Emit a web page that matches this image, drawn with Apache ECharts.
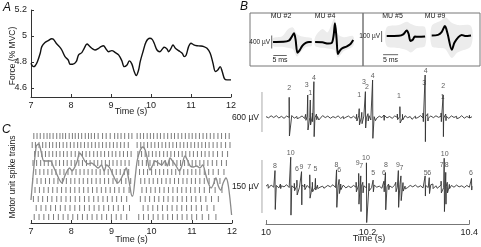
<!DOCTYPE html>
<html><head><meta charset="utf-8">
<script src="https://cdn.jsdelivr.net/npm/echarts@6/dist/echarts.min.js"></script>
<style>html,body{margin:0;padding:0;background:#fff}#c{width:481px;height:247px}</style>
</head><body><div id="c"></div>
<script>
// ---------- DATA ----------
// Panel A: force (% MVC)
const forceT = [7.00,7.06,7.10,7.16,7.23,7.27,7.35,7.43,7.52,7.56,7.63,7.71,7.77,7.85,7.93,7.98,8.04,8.13,8.19,8.27,8.33,8.40,8.46,8.52,8.60,8.69,8.75,8.81,8.88,8.94,9.02,9.11,9.19,9.27,9.33,9.40,9.46,9.52,9.58,9.63,9.69,9.73,9.80,9.88,9.97,10.03,10.08,10.15,10.22,10.28,10.33,10.40,10.44,10.50,10.55,10.61,10.69,10.78,10.83,10.88,10.94,11.00,11.07,11.15,11.23,11.32,11.40,11.48,11.55,11.61,11.67,11.73,11.78,11.84,11.90,12.00];
const forceV = [4.790,4.764,4.769,4.802,4.867,4.918,4.949,4.964,4.979,4.974,4.944,4.918,4.892,4.841,4.815,4.782,4.782,4.802,4.854,4.872,4.905,4.938,4.923,4.905,4.892,4.905,4.918,4.925,4.898,4.879,4.887,4.872,4.854,4.810,4.764,4.777,4.808,4.785,4.726,4.695,4.738,4.802,4.879,4.956,4.982,4.974,4.944,4.892,4.879,4.898,4.913,4.900,4.879,4.905,4.931,4.905,4.887,4.867,4.841,4.854,4.918,4.944,4.931,4.925,4.923,4.918,4.905,4.867,4.790,4.726,4.738,4.764,4.726,4.669,4.662,4.662];
const forceTicks = [4.6,4.8,5,5.2];

// Panel C: overlaid smoothed trace (arbitrary units) and spike trains (centiseconds after 7 s)
const rateT = [7.00,7.13,7.19,7.26,7.32,7.41,7.49,7.55,7.63,7.71,7.77,7.84,7.90,7.96,8.02,8.09,8.15,8.21,8.27,8.34,8.42,8.50,8.58,8.67,8.75,8.82,8.88,8.96,9.04,9.10,9.16,9.25,9.31,9.37,9.41,9.46,9.51,9.53,9.59,9.64,9.71,9.78,9.84,9.89,9.96,10.03,10.08,10.17,10.25,10.33,10.39,10.46,10.52,10.61,10.69,10.75,10.83,10.89,10.96,11.04,11.12,11.20,11.27,11.35,11.41,11.48,11.53,11.60,11.66,11.72,11.78,11.85,11.91,11.99];
const rateV = [23,77,79,70,62,62,62,57,50,43,40,47,52,55,52,56,62,70,67,62,59,60,58,55,58,52,58,55,48,43,40,45,50,55,48,37,27,27,45,62,72,76,73,65,53,58,62,60,58,62,57,65,62,57,52,57,67,63,57,56,57,55,58,48,40,35,38,45,37,33,40,45,37,8];
const spikeRows = [
 [7,15,23,32,40,47,55,64,72,79,86,95,103,110,118,126,135,143,150,158,167,178,187,197,208,216,224,233,243,251,264,272,280,289,297,305,314,322,331,340,349,357,366,375,384,393,401,410,419,428,437,446,455,465,474,484,493],
 [3,11,20,29,37,46,54,63,71,80,89,98,107,116,124,133,142,151,160,169,178,187,196,205,214,223,232,242,264,273,281,290,299,308,317,326,335,344,353,362,371,380,389,398,407,416,425,434,443,453,463,473,484,495],
 [9,18,27,36,45,54,63,72,81,90,100,110,119,128,137,146,156,165,174,183,193,202,211,221,230,240,249,266,275,284,293,302,311,320,330,339,348,357,367,376,385,395,404,414,424,433,443,453,464,476,489],
 [5,14,24,33,43,52,62,71,81,90,100,109,119,128,138,147,157,166,176,185,195,204,214,224,234,244,268,277,287,296,306,315,325,334,344,353,363,372,382,391,401,410,420,430,440,451,462,474,486],
 [12,22,32,42,52,62,72,82,92,102,112,122,132,142,152,162,172,182,192,202,212,222,232,243,270,280,290,300,310,320,330,340,350,360,370,380,390,400,410,420,431,442,453,466,480],
 [4,15,25,36,46,57,67,78,88,99,109,120,130,141,151,162,172,183,193,204,214,225,236,248,273,283,294,304,315,325,336,346,357,367,378,388,399,409,420,431,443,456,470],
 [10,21,32,43,54,65,76,87,98,109,120,131,142,153,164,175,186,197,208,219,231,244,276,287,298,309,320,331,342,353,364,375,386,397,408,419,431,444,458,475],
 [6,18,29,41,52,64,75,87,98,110,121,133,144,156,167,179,190,202,213,225,238,272,284,295,307,318,330,341,353,364,376,387,399,410,422,435,449,466],
 [13,25,37,49,61,73,85,97,109,121,133,145,157,169,181,193,205,217,230,245,279,291,303,315,327,339,351,363,375,387,399,411,424,438,455],
 [8,20,32,44,56,68,80,92,104,116,128,140,152,164,176,188,200,212,224,238,268,280,292,304,316,328,340,352,364,376,388,400,412,426,442,460]
];

// Panel B templates: [ms, µV]
const mu2 = [[8.6,0],[12.5,5],[14.5,40],[15.5,150],[16.4,270],[17.0,80],[17.7,-330],[18.5,-260],[19.5,-120],[20.8,-30],[22,0],[23,0]];
const mu4 = [[24.3,0],[27,-10],[29.2,-50],[30.5,-30],[31.2,200],[31.7,580],[32.3,100],[32.8,-370],[33.6,-260],[34.5,-190],[36,-140],[37.5,-60],[38.5,60]];
const mu5 = [[7.9,0],[12,2],[13.4,15],[14.6,50],[15.2,20],[15.8,-45],[16.6,-35],[17.3,-5],[18.5,-8],[20.7,-5]];
const mu9 = [[22.9,5],[25,10],[26.2,35],[27.3,90],[28.2,20],[29.6,-125],[30.5,-60],[31.8,-10],[32.9,10],[34,0],[36,5]];
// spread of individual discharges: [ms, low µV, high µV]
const mu2Band = [[8.6,-120,120],[12,-150,180],[14,-180,380],[16,-220,450],[17.5,-450,250],[19,-300,180],[21,-150,150],[23,-120,120]];
const mu4Band = [[24.3,-120,150],[27,-180,400],[29,-200,300],[31.5,-250,720],[32.8,-480,250],[35,-280,150],[38.5,-120,180]];
const mu5Band = [[7.9,-90,80],[12,-110,100],[14.6,-130,130],[16,-150,110],[18,-110,90],[20.7,-90,80]];
const mu9Band = [[22.9,-90,90],[26,-110,140],[27.5,-120,170],[29.6,-200,120],[31.5,-150,100],[36,-90,90]];

// Panel B raw EMG: baseline noise samples (µV) over 10.0–10.4 s, and discharges [t, peak µV, trough µV]
const topNoise = [5,-12,18,-8,20,-15,10,-20,14,-6,22,-18,8,-10,16,-22,12,-5,19,-14,7,-17,21,-9,13,-19,6,-11,17,-21,9,-4,15,-16,11,-23,18,-7,14,-12,20,-15,5,-18,12,-9,23,-13,8,-20,16,-6,10,-17,19,-11,7,-22,13,-8,21,-14,6,-19,15,-10,18,-5,12,-16,9,-21,17,-7,11,-13,20,-18,8,-12,4];
const botNoise = [1,-3,4,-2,3,-4,2,-1,5,-3,2,-4,3,-2,4,-1,3,-5,2,-3,4,-2,1,-4,3,-1,5,-3,2,-2,4,-4,1,-3,3,-2,5,-1,2,-4,3,-3,4,-2,1,-5,3,-1,2,-3,4,-2,5,-4,1,-3,3,-1,4,-2,2,-4,3,-3,5,-1,2,-2,4,-3,1,-4,3,-2,4,-1,2,-3,3,-2,1];
const topSpikes = [[10.045,295,-285],[10.060,20,-25],[10.077,40,-50],[10.081,330,-195],[10.086,255,-120],[10.090,60,-70],[10.093,530,-295],[10.098,45,-40],[10.102,30,-45],[10.130,20,-20],[10.150,20,-25],[10.176,40,-60],[10.181,125,-120],[10.186,70,-100],[10.193,380,-165],[10.198,50,-60],[10.203,40,-45],[10.207,555,-320],[10.212,35,-55],[10.229,30,-50],[10.255,45,-40],[10.260,155,-90],[10.265,40,-45],[10.283,25,-35],[10.290,20,-20],[10.305,60,-70],[10.309,630,-370],[10.314,50,-60],[10.340,60,-70],[10.344,330,-295],[10.349,45,-55],[10.370,20,-25],[10.395,25,-15]];
const botSpikes = [[10.004,6,-5],[10.0175,45,-65],[10.028,7,-6],[10.048,83,-81],[10.055,9,-12],[10.060,18,-24],[10.069,42,-52],[10.075,7,-9],[10.085,33,-33],[10.090,12,-15],[10.096,23,-10],[10.100,6,-6],[10.112,5,-5],[10.137,47,-59],[10.142,20,-20],[10.145,7,-9],[10.175,12,-15],[10.180,37,-50],[10.184,30,-71],[10.188,12,-18],[10.195,67,-102],[10.200,9,-12],[10.208,18,-15],[10.229,15,-15],[10.232,39,-66],[10.238,7,-9],[10.252,12,-15],[10.257,45,-59],[10.262,30,-40],[10.266,11,-13],[10.270,6,-7],[10.309,30,-27],[10.317,25,-20],[10.324,7,-6],[10.332,6,-5],[10.340,15,-18],[10.346,80,-71],[10.349,40,-50],[10.352,12,-18],[10.356,6,-6],[10.399,23,-10]];
const topLabels = [[10.045,430,'2'],[10.079,480,'3'],[10.086,355,'1'],[10.093,590,'4'],[10.181,325,'1'],[10.190,530,'3'],[10.196,455,'2'],[10.207,610,'4'],[10.258,315,'1'],[10.307,515,'3'],[10.310,690,'4'],[10.344,465,'2'],[10.343,295,'1']];
const botLabels = [[10.0175,58,'8'],[10.048,94,'10'],[10.060,49,'6'],[10.069,56,'9'],[10.084,56,'7'],[10.096,49,'5'],[10.137,61,'8'],[10.142,47,'6'],[10.178,67,'9'],[10.185,58,'7'],[10.194,80,'10'],[10.208,39,'5'],[10.229,39,'6'],[10.233,61,'8'],[10.256,61,'9'],[10.263,52,'7'],[10.310,39,'5'],[10.317,39,'6'],[10.341,61,'7'],[10.347,92,'10'],[10.351,61,'8'],[10.398,39,'6']];
const emgTicks = [10,10.2,10.4];
const scaleTopUV = 600, scaleBotUV = 150, scaleTplA = 400, scaleTplB = 100, scaleMs = 5;

// ---------- BUILD ----------
const FONT = 'Liberation Sans';
const INK = '#222';
function pairs(a,b){return a.map((x,i)=>[x,b[i]]);}
function trace(noise, spikes){
  const pts=[]; const n=noise.length;
  for(let i=0;i<n;i++) pts.push([10+0.4*i/(n-1), noise[i]]);
  spikes.forEach(s=>{pts.push([s[0],s[1]]);pts.push([s[0]+0.0005,s[2]]);});
  pts.sort((a,b)=>a[0]-b[0]); return pts;
}
const raster=[]; spikeRows.forEach((r,i)=>r.forEach(cs=>raster.push([7+cs/100,i+1])));

function band(arr, xi, yi){
  return {type:'custom', xAxisIndex:xi, yAxisIndex:yi, data:[[0,0]], silent:true, z:1,
    renderItem:(p,api)=>{
      const up=arr.map(d=>api.coord([d[0],d[2]]));
      const lo=arr.slice().reverse().map(d=>api.coord([d[0],d[1]]));
      return {type:'polygon', shape:{points:up.concat(lo), smooth:0.3}, style:{fill:'#ececec'}};
    }};
}
function wave(arr, xi, yi){
  return {type:'line', xAxisIndex:xi, yAxisIndex:yi, data:arr, showSymbol:false, smooth:0.3,
    lineStyle:{color:'#000', width:2}, z:3};
}
function seg(pts, xi, yi, color, w){
  return {type:'line', xAxisIndex:xi, yAxisIndex:yi, data:pts, showSymbol:false,
    lineStyle:{color:color||'#333', width:w||1}, z:4};
}
function labels(arr, xi, yi){
  return {type:'scatter', xAxisIndex:xi, yAxisIndex:yi, symbolSize:1, itemStyle:{color:'rgba(0,0,0,0)'},
    data:arr.map(d=>({value:[d[0],d[1]], name:d[2]})), z:5,
    label:{show:true, position:'inside', formatter:p=>p.name, fontSize:7, color:'#333', fontFamily:FONT}};
}
const axLine = {lineStyle:{color:'#333', width:1}};
const hidden = (min,max,extra)=>Object.assign({type:'value', show:false, min, max, splitLine:{show:false}}, extra||{});
const txt = (x,y,text,size,align,extra)=>Object.assign({type:'text', x, y, z:100,
  style:{text, font:size+'px '+FONT, fill:INK, align:align||'center', verticalAlign:'middle'}}, extra||{});

const option = {
  animation:false,
  grid:[
    {left:31, top:10, width:200, height:87},          // A
    {left:31, top:131, width:201, height:92},         // C
    {left:250, top:13, width:113, height:53, show:true, borderColor:'#777', borderWidth:1}, // B box 1
    {left:363, top:13, width:117, height:53, show:true, borderColor:'#777', borderWidth:1}, // B box 2
    {left:260.85, top:62, width:211.15, height:88},   // B trace 600
    {left:260.85, top:145, width:211.15, height:79},  // B trace 150
    {left:266, top:223, width:206, height:1}          // B time axis
  ],
  xAxis:[
    {gridIndex:0, type:'value', min:7, max:12, interval:1, axisLine:axLine, splitLine:{show:false},
      axisTick:{inside:true, length:3, lineStyle:{color:'#333'}}, axisLabel:{fontSize:9, color:INK, margin:4, fontFamily:FONT}},
    {gridIndex:1, type:'value', min:7, max:12, interval:1, axisLine:axLine, splitLine:{show:false},
      axisTick:{inside:true, length:3, lineStyle:{color:'#333'}}, axisLabel:{fontSize:9, color:INK, margin:4, fontFamily:FONT}},
    hidden(0,42.16,{gridIndex:2}),
    hidden(0,39,{gridIndex:3}),
    hidden(9.99,10.4,{gridIndex:4}),
    hidden(9.99,10.4,{gridIndex:5}),
    {gridIndex:6, type:'value', min:10, max:10.4, axisLine:{lineStyle:{color:'#777'}}, splitLine:{show:false},
      axisTick:{inside:true, length:4, customValues:[10,10.4], lineStyle:{color:'#777'}},
      axisLabel:{customValues:emgTicks, fontSize:9, color:INK, margin:4, fontFamily:FONT}}
  ],
  yAxis:[
    {gridIndex:0, type:'value', min:4.53, max:5.2, axisLine:{show:true, lineStyle:{color:'#333'}}, splitLine:{show:false},
      axisTick:{show:true, inside:true, length:3, customValues:forceTicks, lineStyle:{color:'#333'}},
      axisLabel:{customValues:forceTicks, fontSize:9, color:INK, margin:4, fontFamily:FONT}},
    hidden(0.444,10.667,{gridIndex:1, inverse:true}),
    hidden(0,92,{gridIndex:1}),
    hidden(-739,893,{gridIndex:2}),
    hidden(-273,209,{gridIndex:3}),
    hidden(-495,825,{gridIndex:4}),
    hidden(-106.1,117.4,{gridIndex:5}),
    hidden(0,1,{gridIndex:6})
  ],
  series:[
    {type:'line', xAxisIndex:0, yAxisIndex:0, data:pairs(forceT,forceV), showSymbol:false, smooth:0.35,
      lineStyle:{color:'#111', width:1.4}},
    {type:'scatter', xAxisIndex:1, yAxisIndex:1, data:raster, symbol:'rect', symbolSize:[1,6],
      itemStyle:{color:'#5a5a5a'}},
    {type:'line', xAxisIndex:1, yAxisIndex:2, data:pairs(rateT,rateV), showSymbol:false, smooth:0.3,
      lineStyle:{color:'#8a8a8a', width:1.3}, z:3},
    band(mu2Band,2,3), band(mu4Band,2,3), band(mu5Band,3,4), band(mu9Band,3,4),
    wave(mu2,2,3), wave(mu4,2,3), wave(mu5,3,4), wave(mu9,3,4),
    seg([[8.1,-scaleTplA/2],[8.1,scaleTplA/2]],2,3,'#666',1),
    seg([[8.7,-416],[8.7+scaleMs,-416]],2,3,'#666',1),
    seg([[6.2,-55],[6.2,-55+scaleTplB]],3,4,'#666',1),
    seg([[6.7,-170],[6.7+scaleMs,-170]],3,4,'#666',1),
    {type:'line', xAxisIndex:4, yAxisIndex:5, data:trace(topNoise,topSpikes), showSymbol:false,
      lineStyle:{color:'#333', width:0.9}},
    {type:'line', xAxisIndex:5, yAxisIndex:6, data:trace(botNoise,botSpikes), showSymbol:false,
      lineStyle:{color:'#333', width:0.9}},
    seg([[9.9922,-225],[9.9922,-225+scaleTopUV]],4,5,'#aaa',1),
    seg([[9.9922,-scaleBotUV/2],[9.9922,scaleBotUV/2]],5,6,'#aaa',1),
    labels(topLabels,4,5), labels(botLabels,5,6)
  ],
  graphic:[
    {type:'text', x:3, y:2, z:100, style:{text:'A', font:'italic 12px '+FONT, fill:'#111'}},
    {type:'text', x:240, y:1, z:100, style:{text:'B', font:'italic 12px '+FONT, fill:'#111'}},
    {type:'text', x:2, y:124, z:100, style:{text:'C', font:'italic 12px '+FONT, fill:'#111'}},
    txt(12.5,56,'Force (% MVC)',8.5,'center',{rotation:Math.PI/2}),
    txt(131,112,'Time (s)',9),
    txt(12.5,177,'Motor unit spike trains',8.5,'center',{rotation:Math.PI/2}),
    txt(131.5,240,'Time (s)',9),
    txt(369,239,'Time (s)',9),
    txt(281,16.5,'MU #2',7), txt(325,16.5,'MU #4',7), txt(392.5,16.5,'MU #5',7), txt(435,16.5,'MU #9',7),
    txt(270,42,'400 µV',6.5,'right'), txt(380,36,'100 µV',6.5,'right'),
    txt(280,60,'5 ms',7), txt(390.5,60,'5 ms',7),
    txt(259,118,'600 µV',8.5,'right'), txt(259,187,'150 µV',8.5,'right')
  ]
};
const chart = echarts.init(document.getElementById('c'), null, {renderer:'canvas'});
chart.setOption(option);
</script></body></html>
